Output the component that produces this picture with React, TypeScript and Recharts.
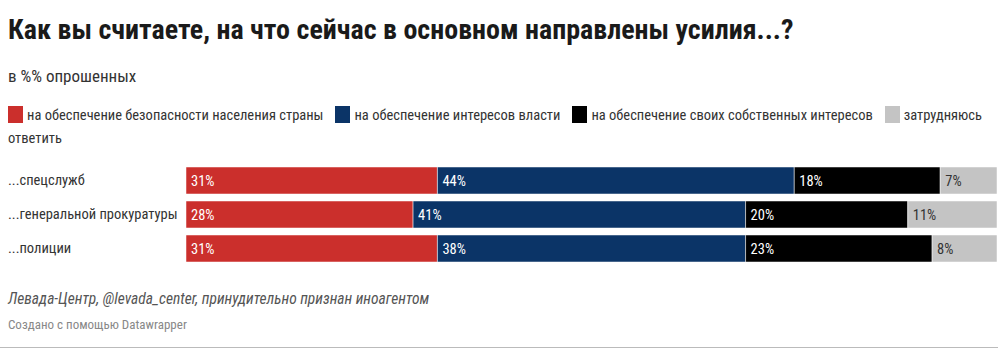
import React from 'react';
import { BarChart, Bar, XAxis, YAxis, LabelList } from 'recharts';

// Levada: на что направлены усилия, в %% опрошенных
const categories = ['...спецслужб', '...генеральной прокуратуры', '...полиции'];
const safety = [31, 28, 31];
const power = [44, 41, 38];
const own = [18, 20, 23];
const unsure = [7, 11, 8];

const seriesNames = [
  'на обеспечение безопасности населения страны',
  'на обеспечение интересов власти',
  'на обеспечение своих собственных интересов',
  'затрудняюсь ответить',
];
const seriesColors = ['#cb2f2c', '#0b3467', '#000000', '#c4c4c4'];
const seriesKeys = ['safety', 'power', 'own', 'unsure'];

const data = categories.map((name, i) => ({
  name,
  safety: safety[i],
  power: power[i],
  own: own[i],
  unsure: unsure[i],
}));

const FONT = 'Roboto, sans-serif';
const COND = 'condensed';

export default function App() {
  return (
    <div style={{ position: 'absolute', left: 0, top: 0, width: 1000, height: 352, background: '#fff', fontFamily: FONT, fontStretch: COND, overflow: 'hidden' }}>
      <div style={{ position: 'absolute', left: 8, top: 13, fontSize: 28, fontWeight: 700, color: '#1a1a1a', whiteSpace: 'nowrap' }}>
        Как вы считаете, на что сейчас в основном направлены усилия...?
      </div>
      <div style={{ position: 'absolute', left: 8, top: 66, fontSize: 17, color: '#333' }}>
        в %% опрошенных
      </div>
      <div style={{ position: 'absolute', left: 8, top: 104, width: 990, fontSize: 14.5, lineHeight: '23px', color: '#333' }}>
        {seriesNames.map((n, i) => (
          <React.Fragment key={n}>
            <span style={{ display: 'inline-block', width: 15, height: 17, background: seriesColors[i], verticalAlign: -3, marginRight: 4 }} />
            {/* each word in its own span so a wrapped label doesn't span both lines */}
            {n.split(' ').map((w, j, arr) => (
              <React.Fragment key={j}>
                <span style={{ marginRight: j === arr.length - 1 && i < 3 ? 12 : 0 }}>{w}</span>
                {j < arr.length - 1 ? ' ' : ''}
              </React.Fragment>
            ))}
          </React.Fragment>
        ))}
      </div>
      <div style={{ position: 'absolute', left: 0, top: 163 }}>
        <BarChart width={1000} height={102} data={data} layout="vertical" barSize={27} margin={{ top: 0, right: 3, bottom: 0, left: 0 }}>
          <XAxis type="number" domain={[0, 100]} hide />
          <YAxis
            type="category"
            dataKey="name"
            width={186}
            axisLine={false}
            tickLine={false}
            tick={({ x, y, payload }: any) => (
              <text x={8} y={y} dy={5} fontSize={14.5} fill="#333" style={{ fontFamily: FONT, fontStretch: COND }}>{payload.value}</text>
            )}
          />
          {seriesKeys.map((k, i) => (
            <Bar key={k} dataKey={k} stackId="a" fill={seriesColors[i]} stroke="#fff" strokeWidth={0.5} isAnimationActive={false}>
              <LabelList
                dataKey={k}
                position="insideLeft"
                offset={5}
                formatter={(v: any) => `${v}%`}
                style={{ fontSize: 14.5, fontFamily: FONT, fontStretch: COND, fill: i === 3 ? '#333' : '#fff' }}
              />
            </Bar>
          ))}
        </BarChart>
      </div>
      <div style={{ position: 'absolute', left: 8, top: 290, fontSize: 15.5, fontStyle: 'italic', color: '#555' }}>
        Левада-Центр, @levada_center, принудительно признан иноагентом
      </div>
      <div style={{ position: 'absolute', left: 8, top: 317, fontSize: 13, color: '#888' }}>
        Создано с помощью Datawrapper
      </div>
      <div style={{ position: 'absolute', left: 0, top: 347, width: 998, height: 1, background: '#bbb' }} />
    </div>
  );
}
